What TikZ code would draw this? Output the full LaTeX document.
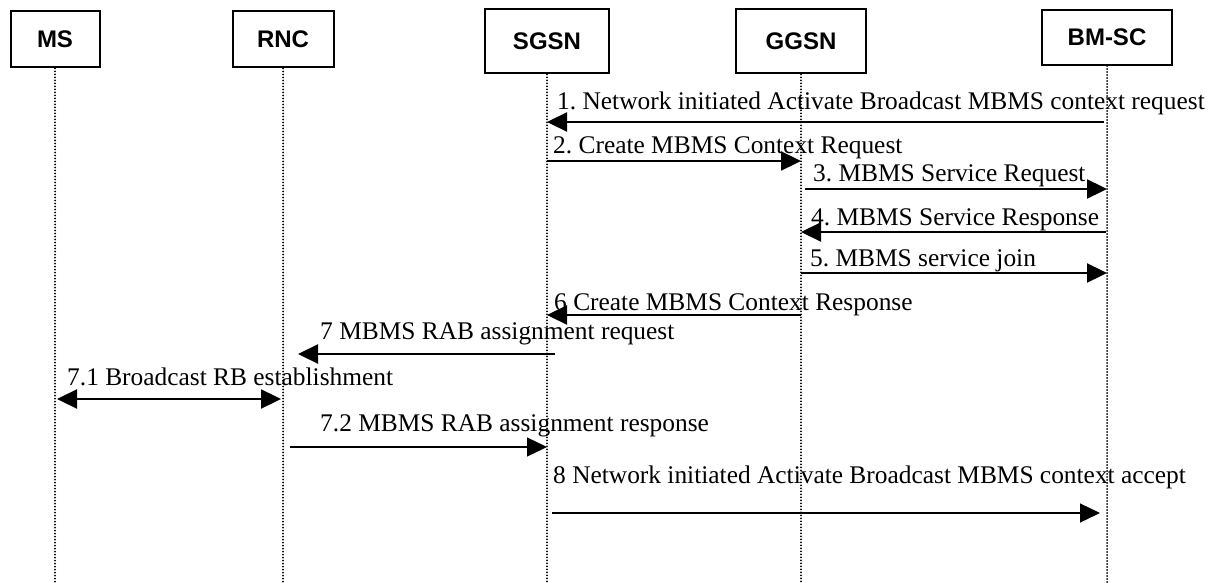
\documentclass[tikz,border=0pt]{standalone}
\usepackage{fontspec}
\setmainfont{Liberation Serif}
\setsansfont{Liberation Sans}
\usetikzlibrary{arrows.meta}
\frenchspacing

\begin{document}
\begin{tikzpicture}[x=1pt, y=-1pt, >={Triangle[length=20pt, width=19pt]}, every node/.style={font=\fontsize{25.4}{30}\selectfont}]
  \useasboundingbox (0,0) rectangle (1208,583);
  \tikzstyle{entity}=[draw, line width=2pt, inner sep=0pt, font=\sffamily\bfseries\fontsize{24}{28}\selectfont]
  \tikzstyle{life}=[line width=2pt, line cap=round, dash pattern=on 0pt off 3pt]
  \tikzstyle{msg}=[line width=2.3pt, ->]
  \tikzstyle{thin}=[line width=1.3pt, ->]
  \tikzstyle{lbl}=[anchor=base west, inner sep=0pt]
  \node[entity, minimum width=89pt, minimum height=56pt] (ms) at (55,39.5) {MS};
  \node[entity, minimum width=101pt, minimum height=56pt] (rnc) at (283,39.5) {RNC};
  \node[entity, minimum width=124pt, minimum height=64pt] (sgsn) at (547,41.3) {SGSN};
  \node[entity, minimum width=130pt, minimum height=64pt] (ggsn) at (801,41.3) {GGSN};
  \node[entity, minimum width=130pt, minimum height=55pt] (bmsc) at (1107,37.5) {BM-SC};
  \draw[life] (ms.south) -- (ms |- 0,583);
  \draw[life] (rnc.south) -- (rnc |- 0,583);
  \draw[life] (sgsn.south) -- (sgsn |- 0,583);
  \draw[life] (ggsn.south) -- (ggsn |- 0,583);
  \draw[life] (bmsc.south) -- (bmsc |- 0,583);
  \node[lbl] (t1) at (557,110) {1. Network initiated Activate Broadcast MBMS context request};
  \draw[msg, shorten <=3pt] (bmsc |- 0,122) -- (sgsn |- 0,122);
  \node[lbl] (t2) at (553,154) {2. Create MBMS Context Request};
  \draw[msg] (sgsn |- 0,161) -- (ggsn |- 0,161);
  \node[lbl] (t3) at (813,181.7) {3. MBMS Service Request};
  \draw[msg, shorten <=4pt] (ggsn |- 0,189) -- (bmsc |- 0,189);
  \node[lbl] (t4) at (811,225.7) {4. MBMS Service Response};
  \draw[msg, shorten <=1pt] (bmsc |- 0,232) -- (ggsn |- 0,232);
  \node[lbl] (t5) at (810,266.7) {5. MBMS service join};
  \draw[msg] (ggsn |- 0,273) -- (bmsc |- 0,273);
  \node[lbl] (t6) at (554,310) {6 Create MBMS Context Response};
  \draw[msg] (ggsn |- 0,315) -- (sgsn |- 0,315);
  \node[lbl] (t7) at (320,339) {7 MBMS RAB assignment request};
  \draw[msg, shorten <=-8pt, shorten >=15pt] (sgsn |- 0,354) -- (rnc |- 0,354);
  \node[lbl] (t71) at (67,385) {7.1 Broadcast RB establishment};
  \draw[msg, <->, shorten <=2pt, shorten >=2pt] (ms |- 0,399) -- (rnc |- 0,399);
  \node[lbl] (t72) at (320,431.7) {7.2 MBMS RAB assignment response};
  \draw[thin, shorten <=7pt] (rnc |- 0,447) -- (sgsn |- 0,447);
  \node[lbl] (t8) at (553,483) {8 Network initiated Activate Broadcast MBMS context accept};
  \draw[thin, shorten <=5pt, shorten >=7pt] (sgsn |- 0,513) -- (bmsc |- 0,513);
\end{tikzpicture}
\end{document}
